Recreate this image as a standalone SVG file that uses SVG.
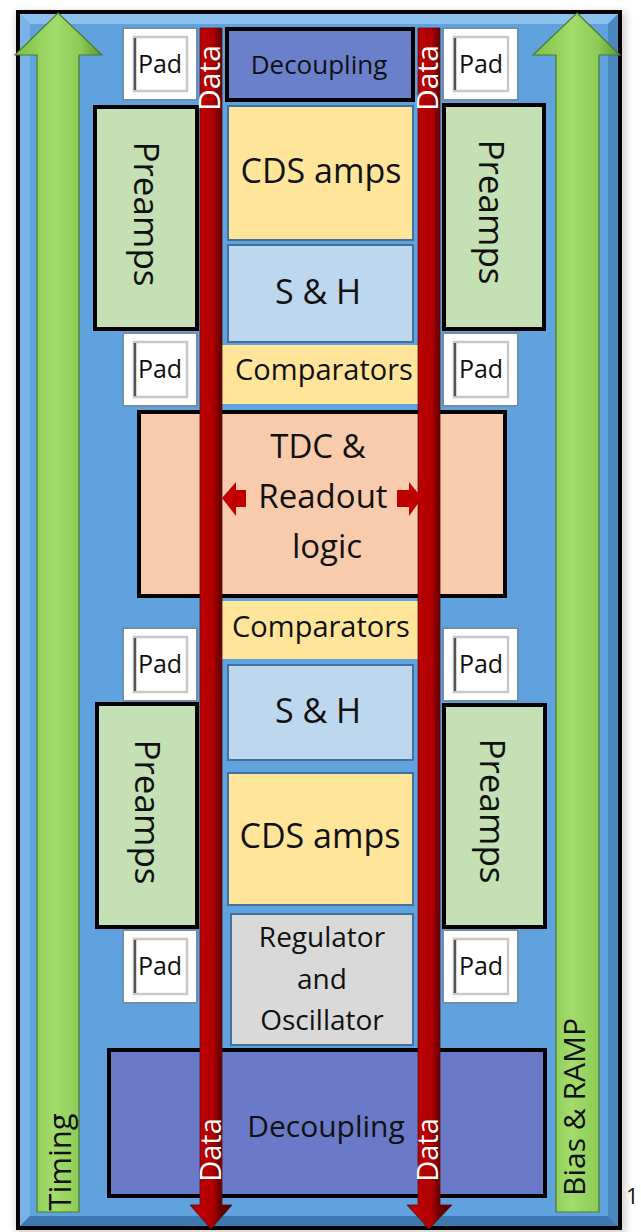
<svg xmlns="http://www.w3.org/2000/svg" width="641" height="1232" viewBox="0 0 641 1232">
<defs>
<linearGradient id="gGreen" x1="0" y1="0" x2="1" y2="0">
<stop offset="0" stop-color="#7CBF45"/>
<stop offset="0.45" stop-color="#A3DC6C"/>
<stop offset="0.75" stop-color="#8CCB55"/>
<stop offset="1" stop-color="#5D9531"/>
</linearGradient>
<linearGradient id="gRed" x1="0" y1="0" x2="1" y2="0">
<stop offset="0" stop-color="#8A0000"/>
<stop offset="0.15" stop-color="#C00000"/>
<stop offset="0.55" stop-color="#B00000"/>
<stop offset="0.7" stop-color="#6E0000"/>
<stop offset="1" stop-color="#4A0000"/>
</linearGradient>
<filter id="shadow" x="-5%" y="-5%" width="110%" height="110%">
<feGaussianBlur stdDeviation="4"/>
</filter>
<style>
.txt{font-family:"Open Sans","Noto Sans","Liberation Sans",sans-serif;fill:#111;}
.white{fill:#ffffff;}
.blk{stroke:#000;stroke-width:4;}
.cell{stroke:#41719C;stroke-width:2;}
.padOuter{fill:#ffffff;stroke:#6F8FB0;stroke-width:2;}
.padInner{fill:#ffffff;stroke:#C8C8C8;stroke-width:2.5;}
.padDark{stroke:#555;stroke-width:2.5;}
.green{fill:url(#gGreen);stroke:#4E7A2E;stroke-width:1.2;}
.red{fill:url(#gRed);stroke:#5A1010;stroke-width:0.8;}
</style>
</defs>

<!-- shadow -->
<rect x="16" y="12" width="610" height="1222" fill="#000" opacity="0.18" filter="url(#shadow)"/>

<!-- chip frame -->
<g id="frame">
<rect x="18" y="12" width="602" height="1216" fill="#5FA2DE" stroke="#000" stroke-width="4"/>
<polygon points="20,14 618,14 608,24 30,24" fill="#8CC0EE"/>
<polygon points="20,14 30,24 30,1216 20,1226" fill="#79B2E6"/>
<polygon points="618,14 618,1226 608,1216 608,24" fill="#4A86C0"/>
<polygon points="20,1226 618,1226 608,1216 30,1216" fill="#3E78B2"/>
</g>

<!-- side arrows -->
<g id="timing">
<polygon class="green" points="58,13 102,55 79,55 79,1212 37,1212 37,55 15,55"/>
<text class="txt" font-size="31" text-anchor="middle" transform="translate(71,1162) rotate(-90)">Timing</text>
</g>
<g id="bias-ramp">
<polygon class="green" points="577,13 620,55 599,55 599,1212 556,1212 556,55 533,55"/>
<text class="txt" font-size="30" text-anchor="middle" transform="translate(585,1107) rotate(-90)">Bias &amp; RAMP</text>
</g>

<!-- pads -->
<g id="pad-tl"><rect class="padOuter" x="123" y="28" width="74" height="72"/><rect class="padInner" x="134" y="37" width="53" height="54"/><line class="padDark" x1="135" y1="38" x2="135" y2="90"/><text class="txt" font-size="25" x="160" y="73" text-anchor="middle">Pad</text></g>
<g id="pad-tr"><rect class="padOuter" x="443" y="28" width="75" height="72"/><rect class="padInner" x="454" y="37" width="54" height="54"/><line class="padDark" x1="455" y1="38" x2="455" y2="90"/><text class="txt" font-size="25" x="481" y="73" text-anchor="middle">Pad</text></g>
<g id="pad-ml"><rect class="padOuter" x="123" y="333" width="74" height="73"/><rect class="padInner" x="134" y="342" width="53" height="55"/><line class="padDark" x1="135" y1="343" x2="135" y2="396"/><text class="txt" font-size="25" x="160" y="378" text-anchor="middle">Pad</text></g>
<g id="pad-mr"><rect class="padOuter" x="443" y="333" width="75" height="73"/><rect class="padInner" x="454" y="342" width="54" height="55"/><line class="padDark" x1="455" y1="343" x2="455" y2="396"/><text class="txt" font-size="25" x="481" y="378" text-anchor="middle">Pad</text></g>
<g id="pad-l3"><rect class="padOuter" x="123" y="628" width="74" height="73"/><rect class="padInner" x="134" y="637" width="53" height="55"/><line class="padDark" x1="135" y1="638" x2="135" y2="691"/><text class="txt" font-size="25" x="160" y="673" text-anchor="middle">Pad</text></g>
<g id="pad-r3"><rect class="padOuter" x="443" y="628" width="75" height="73"/><rect class="padInner" x="454" y="637" width="54" height="55"/><line class="padDark" x1="455" y1="638" x2="455" y2="691"/><text class="txt" font-size="25" x="481" y="673" text-anchor="middle">Pad</text></g>
<g id="pad-bl"><rect class="padOuter" x="123" y="930" width="74" height="73"/><rect class="padInner" x="134" y="939" width="53" height="55"/><line class="padDark" x1="135" y1="940" x2="135" y2="993"/><text class="txt" font-size="25" x="160" y="975" text-anchor="middle">Pad</text></g>
<g id="pad-br"><rect class="padOuter" x="443" y="930" width="75" height="73"/><rect class="padInner" x="454" y="939" width="54" height="55"/><line class="padDark" x1="455" y1="940" x2="455" y2="993"/><text class="txt" font-size="25" x="481" y="975" text-anchor="middle">Pad</text></g>

<!-- preamps -->
<g id="preamps-tl"><rect class="blk" x="95" y="107" width="102" height="222" fill="#C5E0B4"/><text class="txt" font-size="35" text-anchor="middle" transform="translate(134,214) rotate(90)">Preamps</text></g>
<g id="preamps-tr"><rect class="blk" x="444" y="105" width="100" height="224" fill="#C5E0B4"/><text class="txt" font-size="35" text-anchor="middle" transform="translate(479,212) rotate(90)">Preamps</text></g>
<g id="preamps-bl"><rect class="blk" x="97" y="704" width="100" height="223" fill="#C5E0B4"/><text class="txt" font-size="35" text-anchor="middle" transform="translate(135,812) rotate(90)">Preamps</text></g>
<g id="preamps-br"><rect class="blk" x="444" y="705" width="101" height="222" fill="#C5E0B4"/><text class="txt" font-size="35" text-anchor="middle" transform="translate(480,811) rotate(90)">Preamps</text></g>

<!-- center column -->
<g id="decoupling-top"><rect class="blk" x="227" y="29" width="186" height="71" fill="#6A80CB"/><text class="txt" font-size="26" x="319" y="74" text-anchor="middle">Decoupling</text></g>
<g id="cds-top"><rect class="cell" x="228" y="106" width="185" height="134" fill="#FFE599"/><text class="txt" font-size="34" x="321" y="183" text-anchor="middle">CDS amps</text></g>
<g id="sh-top"><rect class="cell" x="228" y="245" width="185" height="97" fill="#BDD7EE"/><text class="txt" font-size="34" x="318" y="304" text-anchor="middle">S &amp; H</text></g>
<g id="comparators-top"><rect x="222" y="345" width="196" height="59" fill="#FFE599"/><text class="txt" font-size="29" x="324" y="380" text-anchor="middle">Comparators</text></g>
<g id="tdc"><rect class="blk" x="139" y="412" width="366" height="184" fill="#F8CBAD"/>
<text class="txt" font-size="33" text-anchor="middle"><tspan x="318" y="458">TDC &amp;</tspan><tspan x="323" y="508">Readout</tspan><tspan x="327" y="558">logic</tspan></text>
</g>
<g id="comparators-bottom"><rect x="222" y="601" width="196" height="58" fill="#FFE599"/><text class="txt" font-size="29" x="321" y="637" text-anchor="middle">Comparators</text></g>
<g id="sh-bottom"><rect class="cell" x="228" y="665" width="185" height="95" fill="#BDD7EE"/><text class="txt" font-size="34" x="318" y="723" text-anchor="middle">S &amp; H</text></g>
<g id="cds-bottom"><rect class="cell" x="228" y="773" width="185" height="132" fill="#FFE599"/><text class="txt" font-size="34" x="320" y="848" text-anchor="middle">CDS amps</text></g>
<g id="regulator"><rect class="cell" x="231" y="914" width="182" height="131" fill="#D9D9D9"/>
<text class="txt" font-size="28" text-anchor="middle"><tspan x="322" y="947">Regulator</tspan><tspan x="322" y="989">and</tspan><tspan x="322" y="1030">Oscillator</tspan></text>
</g>
<g id="decoupling-bottom"><rect class="blk" x="109" y="1050" width="436" height="146" fill="#6A7AC8"/><text class="txt" font-size="30" x="326" y="1137" text-anchor="middle">Decoupling</text></g>

<!-- connectors -->
<g id="connectors">
<polygon class="red" points="200,28 222,28 222,1205 232,1205 211,1229 190,1205 200,1205"/>
<polygon class="red" points="418,28 440,28 440,1205 452,1205 429,1229 407,1205 418,1205"/>
<polygon fill="#C00000" points="222,498 236,482 236,490 246,490 246,507 236,507 236,516"/>
<polygon fill="#C00000" points="422,498 409,482 409,490 397,490 397,507 409,507 409,516"/>
<text class="txt white" font-size="30" text-anchor="middle" transform="translate(220,78) rotate(-90)">Data</text>
<text class="txt white" font-size="30" text-anchor="middle" transform="translate(438,78) rotate(-90)">Data</text>
<text class="txt white" font-size="29" text-anchor="middle" transform="translate(221,1150) rotate(-90)">Data</text>
<text class="txt white" font-size="29" text-anchor="middle" transform="translate(438,1150) rotate(-90)">Data</text>
</g>

<text class="txt" font-size="22" x="626" y="1204">1</text>
</svg>
